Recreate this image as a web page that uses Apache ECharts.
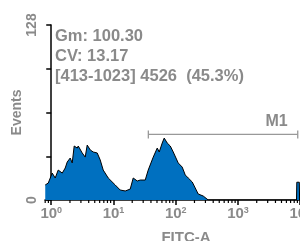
<!DOCTYPE html>
<html>
<head>
<meta charset="utf-8">
<script src="https://cdn.jsdelivr.net/npm/echarts@6/dist/echarts.min.js"></script>
<style>
html, body { margin: 0; padding: 0; background: #fff; }
#chart { width: 300px; height: 241px; }
</style>
</head>
<body>
<div id="chart"></div>
<script>
// FITC-A channel in decades (log10) and event counts
var logFitc = [-0.096, -0.048, -0.016, 0.016, 0.064, 0.112, 0.177, 0.225, 0.257, 0.305, 0.337, 0.369,
  0.418, 0.434, 0.498, 0.546, 0.578, 0.627, 0.675, 0.739, 0.787, 0.835, 0.916, 1.028, 1.108, 1.189,
  1.269, 1.317, 1.382, 1.430, 1.510, 1.558, 1.639, 1.703, 1.735, 1.783, 1.815, 1.863, 1.912, 1.960,
  2.040, 2.104, 2.153, 2.201, 2.265, 2.313, 2.361, 2.442, 2.522, 3.000, 3.500, 3.940, 3.945, 3.985, 3.990];
var events = [11.0, 12.4, 13.2, 19.7, 16.1, 21.9, 19.7, 23.4, 27.8, 30.7, 27.1, 39.5,
  38.0, 39.5, 34.4, 31.4, 40.2, 36.6, 35.1, 34.4, 29.3, 21.9, 16.1, 11.0, 7.3, 6.6,
  8.0, 16.1, 13.9, 14.6, 14.6, 21.9, 31.4, 38.0, 35.1, 41.7, 45.3, 41.7, 39.5, 35.1,
  27.1, 24.1, 18.3, 16.1, 13.2, 8.8, 4.4, 2.9, 0, 0, 0, 0, 13, 13, 0];

var gateM1 = [1.56, 3.96];
var gateLevel = 48;
var gateName = 'M1';
var statLines = ['Gm: 100.30', 'CV: 13.17', '[413-1023] 4526  (45.3%)'];
var yLabels = [0, 128];

var xMin = -0.1, xMax = 4.43;
var minorTicks = [];
for (var n = -1; n <= 3; n++) {
  for (var k = 2; k <= 9; k++) {
    var v = n + Math.log10(k);
    if (v >= xMin && v <= xMax) minorTicks.push([v]);
  }
}

var grey = '#8a8a8a';
var myChart = echarts.init(document.getElementById('chart'));

var option = {
  animation: false,
  title: {
    text: statLines.join('\n'),
    left: 55,
    top: 26,
    padding: 0,
    textStyle: { color: grey, fontSize: 16.5, fontWeight: 'bold', fontFamily: 'Liberation Sans, Arial', lineHeight: 20 }
  },
  grid: { left: 45, top: 25, width: 282, height: 175, outerBoundsMode: 'none' },
  xAxis: {
    type: 'value',
    min: xMin,
    max: xMax,
    splitNumber: 5,
    splitLine: { show: false },
    axisLine: { lineStyle: { color: '#000', width: 1.5 } },
    axisTick: { length: 5, lineStyle: { color: '#000', width: 1.5 } },
    axisLabel: {
      margin: 6,
      showMinLabel: false,
      color: grey,
      formatter: function (v) {
        if (v >= 0 && Math.abs(v - Math.round(v)) < 1e-6) return '{b|10}{s|' + Math.round(v) + '}';
        return '';
      },
      rich: {
        b: { fontSize: 15, fontWeight: 'bold', color: grey, fontFamily: 'Liberation Sans, Arial' },
        s: { fontSize: 9, fontWeight: 'bold', color: grey, verticalAlign: 'top', fontFamily: 'Liberation Sans, Arial' }
      }
    },
    name: 'FITC-A',
    nameLocation: 'middle',
    nameGap: 30,
    nameTextStyle: { color: grey, fontSize: 15, fontWeight: 'bold', fontFamily: 'Liberation Sans, Arial' }
  },
  yAxis: {
    type: 'value',
    min: 0,
    max: 128,
    interval: 32,
    splitLine: { show: false },
    axisLine: { show: true, lineStyle: { color: '#000', width: 1.5 } },
    axisTick: { show: true, length: 5, lineStyle: { color: '#000', width: 1.5 } },
    axisLabel: {
      rotate: 90,
      margin: 6,
      color: grey,
      fontSize: 14,
      fontWeight: 'bold',
      fontFamily: 'Liberation Sans, Arial',
      formatter: function (v) { return yLabels.indexOf(v) >= 0 ? String(v) : ''; }
    },
    name: 'Events',
    nameLocation: 'middle',
    nameGap: 21,
    nameMoveOverlap: false,
    nameRotate: 90,
    nameTextStyle: { color: grey, fontSize: 14, fontWeight: 'bold', fontFamily: 'Liberation Sans, Arial' }
  },
  series: [
    {
      type: 'line',
      data: logFitc.map(function (x, i) { return [x, events[i]]; }),
      symbol: 'none',
      lineStyle: { color: '#000', width: 1 },
      areaStyle: { color: '#0070c0', opacity: 1 },
      z: 2
    },
    {
      type: 'custom',
      clip: false,
      data: minorTicks,
      renderItem: function (params, api) {
        var p = api.coord([api.value(0), 0]);
        return { type: 'line', shape: { x1: p[0], y1: p[1], x2: p[0], y2: p[1] + 3 }, style: { stroke: '#000', lineWidth: 1.2 } };
      },
      z: 5
    },
    {
      type: 'custom',
      clip: false,
      data: [[gateM1[0], gateM1[1], gateLevel]],
      renderItem: function (params, api) {
        var a = api.coord([api.value(0), api.value(2)]);
        var b = api.coord([api.value(1), api.value(2)]);
        var st = { stroke: '#999', lineWidth: 1.3 };
        return {
          type: 'group',
          children: [
            { type: 'line', shape: { x1: a[0], y1: a[1], x2: b[0], y2: b[1] }, style: st },
            { type: 'line', shape: { x1: a[0], y1: a[1] - 4, x2: a[0], y2: a[1] + 4 }, style: st },
            { type: 'line', shape: { x1: b[0], y1: b[1] - 4, x2: b[0], y2: b[1] + 4 }, style: st },
            { type: 'text', style: { text: gateName, x: b[0] - 10, y: b[1] - 5, align: 'right', verticalAlign: 'bottom',
              fill: grey, font: 'bold 16px "Liberation Sans", Arial' } }
          ]
        };
      },
      z: 3
    }
  ]
};

option && myChart.setOption(option);

window.onresize = function () {
  myChart.resize();
};
</script>
</body>
</html>
